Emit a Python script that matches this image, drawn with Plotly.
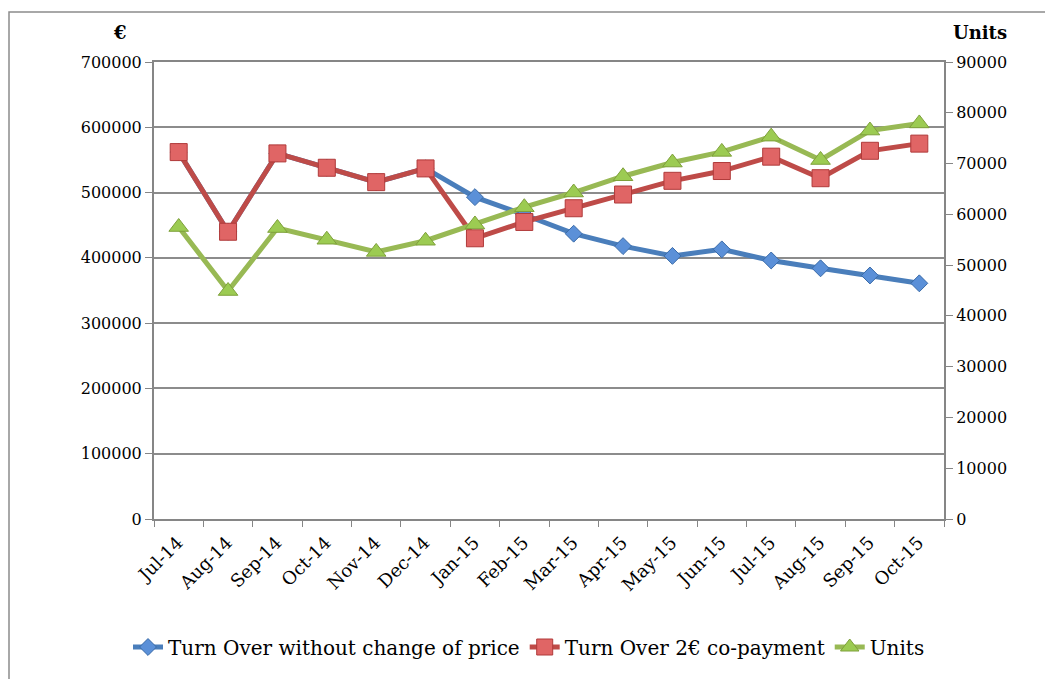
import plotly.graph_objects as go

months = ["Jul-14", "Aug-14", "Sep-14", "Oct-14", "Nov-14", "Dec-14", "Jan-15", "Feb-15",
          "Mar-15", "Apr-15", "May-15", "Jun-15", "Jul-15", "Aug-15", "Sep-15", "Oct-15"]
turnover_no_change = [562000, 440000, 560000, 538000, 516000, 537000, 493000, 466000,
                      437000, 418000, 403000, 413000, 396000, 384000, 373000, 361000]
turnover_copay = [562000, 440000, 560000, 538000, 516000, 537000, 430000, 455000,
                  476000, 497000, 518000, 533000, 555000, 522000, 564000, 575000]
units = [57500, 44900, 57300, 55000, 52600, 54800, 58000, 61400,
         64300, 67500, 70200, 72300, 75300, 70700, 76500, 77900]

FONT = "DejaVu Serif"
OFF = 8  # page body margin
W, H = 1053, 679
# plot area in window pixel coordinates
L, R, T, B = 154, 944, 62, 519
AXC = "#868686"


def px(x):
    return (x - L) / (R - L)


def py(y):
    return (B - y) / (B - T)


fig = go.Figure()
fig.add_trace(go.Scatter(
    x=months, y=turnover_no_change, name="Turn Over without change of price",
    mode="lines+markers",
    line=dict(color="#4A7EBB", width=5),
    marker=dict(symbol="diamond", size=13, color="#5B90D8", line=dict(color="#3A6BA8", width=1)),
))
fig.add_trace(go.Scatter(
    x=months, y=turnover_copay, name="Turn Over 2€ co-payment",
    mode="lines+markers",
    line=dict(color="#BE4B48", width=5),
    marker=dict(symbol="square", size=17, color="#E06565", line=dict(color="#B03A3A", width=1)),
))
fig.add_trace(go.Scatter(
    x=months, y=units, name="Units", yaxis="y2",
    mode="lines+markers",
    line=dict(color="#98B954", width=5),
    marker=dict(symbol="triangle-up", size=17, color="#9CCB52", line=dict(color="#7EA03A", width=1)),
))

fig.update_layout(
    width=W, height=H,
    margin=dict(l=L - OFF, r=W - (R - OFF), t=T - OFF, b=H - (B - OFF), autoexpand=False),
    paper_bgcolor="white", plot_bgcolor="white",
    font=dict(family=FONT, size=16, color="#000000"),
    showlegend=True,
    legend=dict(orientation="h", x=px(128), y=py(647), xanchor="left", yanchor="middle",
                font=dict(family=FONT, size=20), tracegroupgap=0),
    xaxis=dict(type="category", range=[-0.5, len(months) - 0.5], tickangle=-45,
               tickson="boundaries", ticks="outside",
               ticklen=6, tickcolor=AXC, showline=True, linecolor=AXC, linewidth=2,
               mirror=True, showgrid=False, automargin=False,
               ticklabelshift=-1, ticklabelstandoff=4,
               tickfont=dict(family=FONT, size=18)),
    yaxis=dict(range=[0, 700000], dtick=100000, tickformat="d", ticks="outside", ticklen=7,
               tickcolor=AXC, showline=True, linecolor=AXC, linewidth=2,
               showgrid=True, gridcolor="#8C8C8C", gridwidth=1.5, zeroline=False,
               automargin=False, tickfont=dict(family=FONT, size=16)),
    yaxis2=dict(range=[0, 90000], dtick=10000, tickformat="d", overlaying="y", side="right",
                ticks="outside", ticklen=7, tickcolor=AXC, showline=True,
                linecolor=AXC, linewidth=2, showgrid=False, zeroline=False,
                automargin=False, tickfont=dict(family=FONT, size=16)),
    annotations=[
        dict(text="<b>€</b>", xref="paper", yref="paper", x=px(120), y=py(32),
             xanchor="center", yanchor="middle",
             showarrow=False, font=dict(family=FONT, size=18)),
        dict(text="<b>Units</b>", xref="paper", yref="paper", x=px(980), y=py(32),
             xanchor="center", yanchor="middle",
             showarrow=False, font=dict(family=FONT, size=18)),
    ],
    shapes=[
        dict(type="rect", xref="paper", yref="paper", x0=px(9), x1=px(1075), y0=py(720), y1=py(12),
             line=dict(color="#8C8C8C", width=1.5), layer="below"),
    ],
)

fig.write_html("out.html")
